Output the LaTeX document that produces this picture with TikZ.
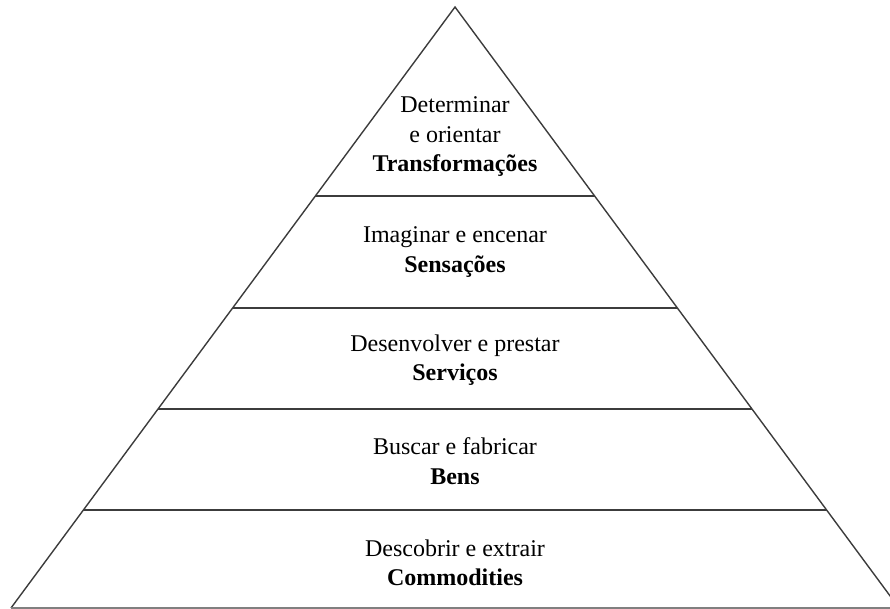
\documentclass[tikz,border=0pt]{standalone}
\usepackage{fontspec}
\setmainfont{Liberation Serif}
\usepackage{tikz}
\usetikzlibrary{calc}
\definecolor{edgegray}{RGB}{60, 60, 60}

\begin{document}
\begin{tikzpicture}[
    x=1pt, y=-1pt,
    edge/.style={draw=edgegray, line width=1.4pt},
    layer/.style={align=center, font=\fontsize{24}{29.5}\selectfont, inner sep=0pt}
]
\useasboundingbox (0,0) rectangle (890,609);
\clip (0,0) rectangle (890,609);

% Pyramid outline
\coordinate (apex) at (455,7);
\coordinate (bl) at (11,608);
\coordinate (br) at (899,608);
\draw[edge, line join=miter] (bl) -- (apex) -- (br);
\draw[edge, draw=gray] (bl) -- (br);

% Layer borders
\foreach \t in {0.3145, 0.5008, 0.6689, 0.8369}
  \draw[edge] ($(apex)!\t!(bl)$) -- ($(apex)!\t!(br)$);

% Layer texts
\node[layer] (l1) at (455,137) {Determinar\\e orientar\\\textbf{Transformações}};
\node[layer] (l2) at (455,252) {Imaginar e encenar\\\textbf{Sensações}};
\node[layer] (l3) at (455,360) {Desenvolver e prestar\\\textbf{Serviços}};
\node[layer] (l4) at (455,461) {Buscar e fabricar\\\textbf{Bens}};
\node[layer] (l5) at (455,563) {Descobrir e extrair\\\textbf{Commodities}};

\end{tikzpicture}
\end{document}
